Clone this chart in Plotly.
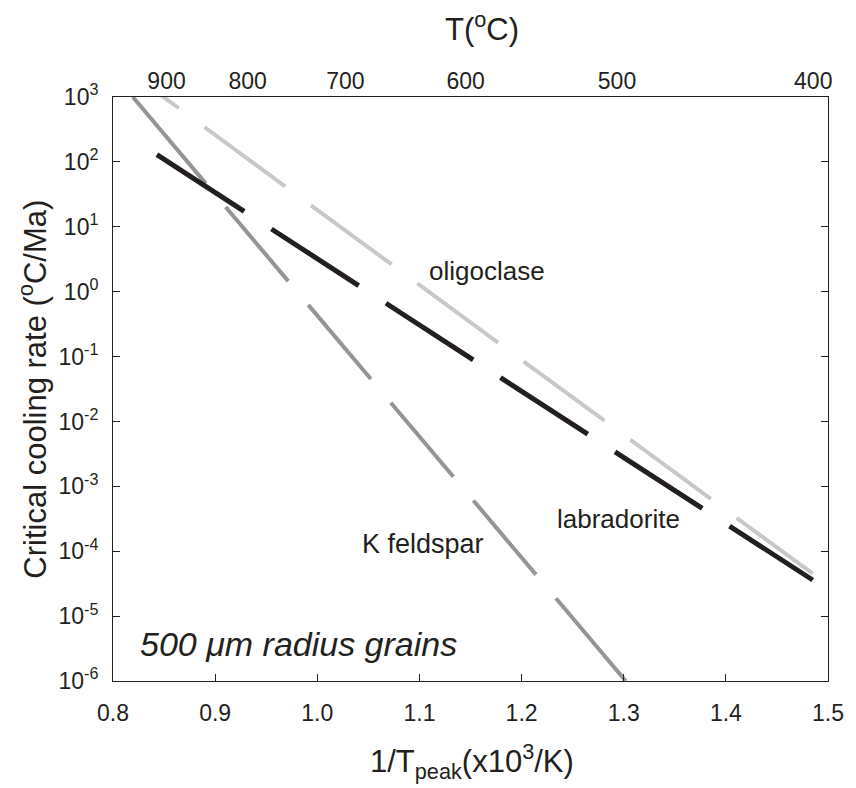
import plotly.graph_objects as go

# ---- data ----
oligoclase_x = [0.7855, 1.4851]
oligoclase_y = [5.48e3, 4.5e-5]
labradorite_x = [0.843, 1.485]
labradorite_y = [129.0, 3.6e-5]
kfeldspar_x = [0.8194, 1.302]
kfeldspar_y = [1.0e3, 1.0e-6]

x_ticks = [0.8, 0.9, 1.0, 1.1, 1.2, 1.3, 1.4, 1.5]
y_exponents = [-6, -5, -4, -3, -2, -1, 0, 1, 2, 3]
top_temps_C = [900, 800, 700, 600, 500, 400]

# ---- styles ----
FONT = "Liberation Sans, Arial, Helvetica, sans-serif"
INK = "#231f20"
C_OLIG = "#c7c8ca"
C_LAB = "#231f20"
C_KF = "#939598"

# plot area in pixels (for paper-coordinate conversion of labels)
W, H = 856, 788
L, R, T, B = 113, 22, 97, 107
PW, PH = W - L - R, H - T - B


def px(xp):
    return (xp - L) / PW


def py(yp):
    return (H - B - yp) / PH


fig = go.Figure()

fig.add_trace(go.Scatter(
    x=oligoclase_x, y=oligoclase_y, mode="lines", xaxis="x2",
    line=dict(color=C_OLIG, width=4, dash="100px,32px"),
    hoverinfo="skip", showlegend=False))
fig.add_trace(go.Scatter(
    x=kfeldspar_x, y=kfeldspar_y, mode="lines",
    line=dict(color=C_KF, width=4,
              dash="113px,31px,97px,31px,97px,31px,97px,31px,97px,31px,112px"),
    hoverinfo="skip", showlegend=False))
fig.add_trace(go.Scatter(
    x=labradorite_x, y=labradorite_y, mode="lines",
    line=dict(color=C_LAB, width=5, dash="104px,32.5px"),
    hoverinfo="skip", showlegend=False))

axis_common = dict(showgrid=False, zeroline=False)
TICK_FONT = dict(size=23, family=FONT, color=INK)

fig.update_layout(
    width=W, height=H,
    margin=dict(l=L, r=R, t=T, b=B, pad=0),
    paper_bgcolor="white", plot_bgcolor="white",
    font=dict(family=FONT, color=INK),
    showlegend=False,
    xaxis=dict(
        range=[0.8, 1.5], tickvals=x_ticks,
        ticktext=[f"{v:.1f}" for v in x_ticks],
        ticks="inside", ticklen=7, tickwidth=1, tickcolor=INK,
        showline=True, linecolor=INK, linewidth=1, mirror=True,
        tickfont=TICK_FONT,
        ticklabelstandoff=11,
        **axis_common),
    xaxis2=dict(
        overlaying="x", side="top", range=[0.8, 1.5],
        tickvals=[1000.0 / (t + 273.15) for t in top_temps_C],
        ticktext=[str(t) for t in top_temps_C],
        ticks="", showline=False,
        tickfont=TICK_FONT,
        ticklabelstandoff=2,
        **axis_common),
    yaxis=dict(
        type="log", range=[-6, 3],
        tickvals=[10.0 ** e for e in y_exponents],
        ticktext=[f"10<sup>{e}</sup>" for e in y_exponents],
        ticks="inside", ticklen=7, tickwidth=1, tickcolor=INK,
        showline=True, linecolor=INK, linewidth=1, mirror="ticks",
        tickfont=TICK_FONT,
        ticklabelstandoff=9,
        **axis_common),
)

annotations = [
    dict(text="T(<sup>o</sup>C)", x=px(485), y=py(27), font=dict(size=31)),
    dict(text="1/T<sub>peak</sub>(x10<sup>3</sup>/K)", x=px(475), y=py(761),
         font=dict(size=31)),
    dict(text="Critical cooling rate (<sup>o</sup>C/Ma)", x=px(32), y=0.5,
         textangle=-90, font=dict(size=31)),
    dict(text="oligoclase", x=px(490), y=py(271), font=dict(size=26)),
    dict(text="labradorite", x=px(623), y=py(519), font=dict(size=26)),
    dict(text="K feldspar", x=px(426), y=py(544), font=dict(size=27)),
    dict(text="<i>500 μm radius grains</i>", x=px(138), y=py(644),
         xanchor="left", font=dict(size=34)),
]
for a in annotations:
    a.setdefault("xanchor", "center")
    a.setdefault("yanchor", "middle")
    a["xref"] = "paper"
    a["yref"] = "paper"
    a["showarrow"] = False
    a["font"] = dict(family=FONT, color=INK, **a["font"])
fig.update_layout(annotations=annotations)

fig.write_html("out.html")
